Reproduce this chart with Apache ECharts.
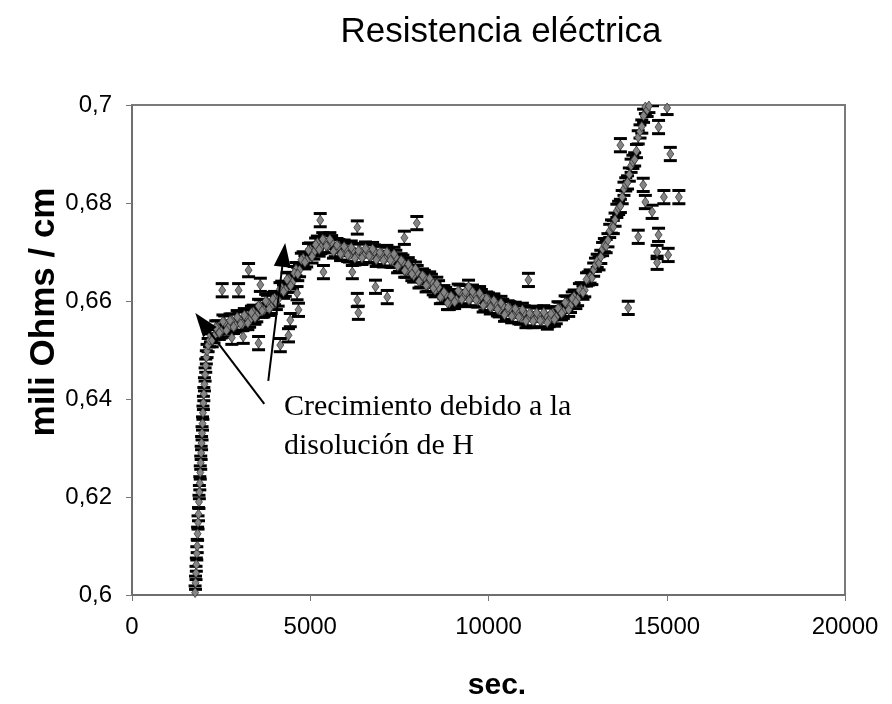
<!DOCTYPE html>
<html>
<head>
<meta charset="utf-8">
<script src="https://cdn.jsdelivr.net/npm/echarts@6/dist/echarts.min.js"></script>
<style>
html,body{margin:0;padding:0;background:#fff;}
#chart{width:892px;height:704px;}
</style>
</head>
<body>
<div id="chart"></div>
<script>
// ---- data ----
const titleText = 'Resistencia eléctrica';
const xAxisName = 'sec.';
const yAxisName = 'mili Ohms / cm';
const noteLines = ['Crecimiento debido a la', 'disolución de H'];

const xTicks = [0, 5000, 10000, 15000, 20000];
const yTicks = [0.6, 0.62, 0.64, 0.66, 0.68, 0.7];

// half-height of each error bar (mili Ohms / cm)
const errorHalf = 0.00135;

// steep initial rise
const riseTime  = [1770,1782,1795,1805,1818,1830,1840,1852,1865,1878,1890,1902,1915,1928,1940,1952,1965,1978,1990,2003,2015,2032,2050,2068,2085,2105,2135,2175];
const riseValue = [0.6005,0.6025,0.6045,0.6062,0.6085,0.6100,0.6125,0.6148,0.6165,0.6190,0.6210,0.6228,0.6250,0.6270,0.6290,0.6310,0.6330,0.6350,0.6372,0.6392,0.6410,0.6430,0.6450,0.6468,0.6485,0.6498,0.6510,0.6520];

// main band of measurements
const bandTime = [2200,2300,2400,2500,2600,2700,2800,2900,3000,3100,3200,3300,3400,3500,3600,3700,3800,3900,4000,4100,4200,4300,4400,4500,4600,4700,4800,4900,5000,5100,5200,5300,5400,5500,5600,5700,5800,5900,6000,6100,6200,6300,6400,6500,6600,6700,6800,6900,7000,7100,7200,7300,7400,7500,7600,7700,7800,7900,8000,8100,8200,8300,8400,8500,8600,8700,8800,8900,9000,9100,9200,9300,9400,9500,9600,9700,9800,9900,10000,10100,10200,10300,10400,10500,10600,10700,10800,10900,11000,11100,11200,11300,11400,11500,11600,11700,11800,11900,12000,12100,12200,12300,12400,12500,12600,12700,12800,12850,12900,12950,13000,13050,13100,13150,13200,13250,13300,13350,13400,13450,13500,13550,13600,13650,13700,13750,13800,13850,13900,13950,14000,14050,14100,14150,14200,14250,14300,14350,14400,14450,14500,14600];
const bandValue = [0.6530,0.6528,0.6546,0.6538,0.6556,0.6546,0.6560,0.6550,0.6564,0.6553,0.6568,0.6560,0.6578,0.6571,0.6589,0.6581,0.6598,0.6588,0.6606,0.6603,0.6627,0.6623,0.6645,0.6638,0.6665,0.6663,0.6687,0.6683,0.6705,0.6699,0.6719,0.6710,0.6724,0.6712,0.6720,0.6704,0.6712,0.6697,0.6706,0.6693,0.6704,0.6691,0.6703,0.6692,0.6704,0.6691,0.6701,0.6688,0.6698,0.6685,0.6696,0.6682,0.6690,0.6674,0.6680,0.6662,0.6669,0.6652,0.6659,0.6642,0.6649,0.6633,0.6641,0.6622,0.6628,0.6609,0.6614,0.6596,0.6606,0.6602,0.6619,0.6608,0.6618,0.6604,0.6615,0.6601,0.6610,0.6594,0.6603,0.6588,0.6596,0.6581,0.6590,0.6576,0.6585,0.6570,0.6580,0.6566,0.6577,0.6563,0.6574,0.6561,0.6572,0.6560,0.6572,0.6561,0.6575,0.6567,0.6584,0.6578,0.6596,0.6590,0.6609,0.6604,0.6624,0.6622,0.6646,0.6650,0.6647,0.6664,0.6674,0.6682,0.6677,0.6690,0.6706,0.6714,0.6712,0.6724,0.6743,0.6752,0.6751,0.6766,0.6784,0.6790,0.6794,0.6812,0.6829,0.6838,0.6842,0.6858,0.6876,0.6884,0.6889,0.6906,0.6934,0.6946,0.6956,0.6978,0.6996,0.6990,0.6998,0.7012];

// readings in between (band spread)
const bandTime2 = [2250,2350,2450,2550,2650,2750,2850,2950,3050,3150,3250,3350,3450,3550,3650,3750,3850,3950,4050,4150,4250,4350,4450,4550,4650,4750,4850,4950,5050,5150,5250,5350,5450,5550,5650,5750,5850,5950,6050,6150,6250,6350,6450,6550,6650,6750,6850,6950,7050,7150,7250,7350,7450,7550,7650,7750,7850,7950,8050,8150,8250,8350,8450,8550,8650,8750,8850,8950,9050,9150,9250,9350,9450,9550,9650,9750,9850,9950,10050,10150,10250,10350,10450,10550,10650,10750,10850,10950,11050,11150,11250,11350,11450,11550,11650,11750,11850,11950,12050,12150,12250,12350,12450,12550,12650,12750];
const bandValue2 = [0.6520,0.6546,0.6535,0.6558,0.6540,0.6560,0.6547,0.6567,0.6553,0.6571,0.6555,0.6576,0.6566,0.6590,0.6580,0.6600,0.6584,0.6604,0.6596,0.6624,0.6619,0.6644,0.6631,0.6657,0.6655,0.6684,0.6679,0.6704,0.6691,0.6715,0.6705,0.6726,0.6712,0.6726,0.6701,0.6714,0.6696,0.6711,0.6694,0.6709,0.6687,0.6703,0.6688,0.6707,0.6692,0.6706,0.6684,0.6699,0.6683,0.6700,0.6683,0.6696,0.6671,0.6683,0.6662,0.6675,0.6655,0.6666,0.6640,0.6652,0.6632,0.6646,0.6626,0.6635,0.6608,0.6618,0.6596,0.6610,0.6598,0.6621,0.6603,0.6619,0.6602,0.6619,0.6602,0.6616,0.6591,0.6605,0.6587,0.6601,0.6583,0.6596,0.6572,0.6587,0.6569,0.6584,0.6567,0.6582,0.6559,0.6575,0.6559,0.6576,0.6560,0.6577,0.6556,0.6574,0.6562,0.6585,0.6575,0.6597,0.6582,0.6605,0.6598,0.6622,0.6617,0.6644];

// scattered single readings
const outlierTime  = [2530,2990,3270,3600,2800,3120,3550,4160,4390,4440,4630,4670,5280,5370,6180,6320,6320,6350,6830,7160,7640,7990,9440,11120,13700,13920,14200,14340,14400,14590,14730,14730,14770,14770,14920,15040,15010,15100,15340];
const outlierValue = [0.6622,0.6622,0.6663,0.6633,0.6525,0.6527,0.6514,0.6510,0.6530,0.6561,0.6616,0.6582,0.6765,0.6659,0.6659,0.6750,0.6602,0.6576,0.6629,0.6608,0.6729,0.6759,0.6629,0.6643,0.6918,0.6586,0.6731,0.6837,0.6802,0.6782,0.6700,0.6678,0.6735,0.6955,0.6812,0.6694,0.6994,0.6900,0.6812];

// annotation arrows [time, value] (line end at centre of arrow head)
const arrow1From = [3710, 0.6390];
const arrow1To   = [1980, 0.65559];
const arrow2From = [3822, 0.6437];
const arrow2To   = [4256, 0.66941];

// ---- build ----
function zip(a, b) { return a.map((v, i) => [v, b[i]]); }
const points = zip(riseTime, riseValue).concat(
  zip(bandTime, bandValue), zip(bandTime2, bandValue2), zip(outlierTime, outlierValue));

const chart = echarts.init(document.getElementById('chart'), null, {renderer: 'canvas'});
const sans = 'Liberation Sans, Arial, sans-serif';
const serif = 'Liberation Serif, Times New Roman, serif';
const borderStyle = {color: '#6e6e6e', width: 2, type: [1, 1]};

chart.setOption({
  animation: false,
  backgroundColor: '#fff',
  grid: {left: 132, right: 47, top: 105, bottom: 109, show: true, borderColor: '#7a7a7a', borderWidth: 2, backgroundColor: 'transparent'},
  xAxis: {
    type: 'value', min: xTicks[0], max: xTicks[xTicks.length - 1], interval: 5000,
    axisLine: {show: true, lineStyle: borderStyle},
    axisTick: {show: true, length: 6, lineStyle: {color: '#777', width: 1}},
    axisLabel: {fontSize: 24, color: '#000', fontFamily: sans, margin: 20, formatter: v => String(v)},
    splitLine: {show: false}
  },
  yAxis: {
    type: 'value', min: yTicks[0], max: yTicks[yTicks.length - 1], interval: 0.02,
    axisLine: {show: true, lineStyle: borderStyle},
    axisTick: {show: true, length: 6, lineStyle: {color: '#777', width: 1}},
    axisLabel: {fontSize: 24, color: '#000', fontFamily: sans, margin: 20,
      formatter: v => String(+v.toFixed(2)).replace('.', ',')},
    splitLine: {show: false}
  },
  graphic: [
    {type: 'text', x: 501, y: 32, style: {text: titleText, fontSize: 35, fontFamily: sans, fill: '#000', textAlign: 'center', textVerticalAlign: 'middle'}},
    {type: 'text', x: 497, y: 686, style: {text: xAxisName, fontSize: 30, fontWeight: 'bold', fontFamily: sans, fill: '#000', textAlign: 'center', textVerticalAlign: 'middle'}},
    {type: 'text', x: 44, y: 312, rotation: Math.PI / 2, style: {text: yAxisName, fontSize: 35, fontWeight: 'bold', fontFamily: sans, fill: '#000', textAlign: 'center', textVerticalAlign: 'middle'}},
    {type: 'text', x: 284, y: 388, style: {text: noteLines.join('\n'), fontSize: 30, lineHeight: 39, fontFamily: serif, fill: '#000', textAlign: 'left', textVerticalAlign: 'top'}}
  ],
  series: [
    {
      type: 'custom', name: 'error', clip: true, z: 2,
      data: points,
      renderItem: function (params, api) {
        const x = api.value(0), y = api.value(1);
        const t = api.coord([x, y + errorHalf]);
        const b = api.coord([x, y - errorHalf]);
        const hw = 6.5;
        return {type: 'group', children: [
          {type: 'line', shape: {x1: t[0], y1: t[1], x2: b[0], y2: b[1]}, style: {stroke: '#000', lineWidth: 1.2}},
          {type: 'line', shape: {x1: t[0] - hw, y1: t[1], x2: t[0] + hw, y2: t[1]}, style: {stroke: '#000', lineWidth: 3}},
          {type: 'line', shape: {x1: b[0] - hw, y1: b[1], x2: b[0] + hw, y2: b[1]}, style: {stroke: '#000', lineWidth: 3}}
        ]};
      }
    },
    {
      type: 'scatter', name: 'R', z: 3, clip: true,
      data: points,
      symbol: 'diamond', symbolSize: [7, 10],
      itemStyle: {color: '#858585', borderColor: '#2a2a2a', borderWidth: 0.7, opacity: 1},
      markLine: {
        silent: true, animation: false, z: 5,
        symbol: ['none', 'triangle'], symbolSize: [17, 24],
        lineStyle: {color: '#000', width: 2, type: 'solid'},
        itemStyle: {color: '#000'},
        label: {show: false},
        data: [
          [{coord: arrow1From}, {coord: arrow1To}],
          [{coord: arrow2From}, {coord: arrow2To}]
        ]
      }
    }
  ]
});
</script>
</body>
</html>
